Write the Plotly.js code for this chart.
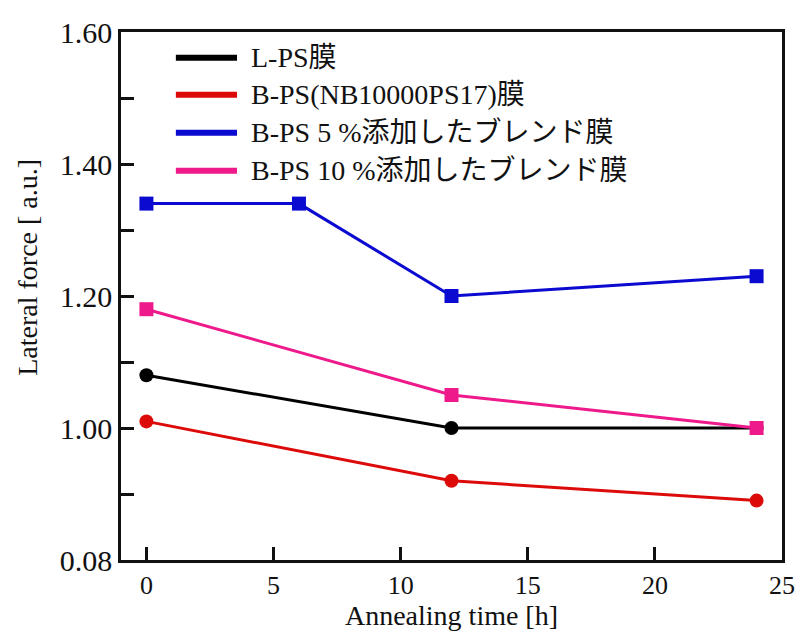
<!DOCTYPE html>
<html><head><meta charset="utf-8">
<script src="https://cdn.plot.ly/plotly-3.0.1.min.js"></script>
<style>body{margin:0;background:#fff}#chart{width:795px;height:637px}</style>
</head><body><div id="chart"></div>
<script>
const seriesNames = ["L-PS膜", "B-PS(NB10000PS17)膜", "B-PS 5 %添加したブレンド膜", "B-PS 10 %添加したブレンド膜"];
const lpsX = [0, 12, 24];
const lpsY = [1.08, 1.00, 1.00];
const bpsX = [0, 12, 24];
const bpsY = [1.01, 0.92, 0.89];
const blend5X = [0, 6, 12, 24];
const blend5Y = [1.34, 1.34, 1.20, 1.23];
const blend10X = [0, 12, 24];
const blend10Y = [1.18, 1.05, 1.00];
const yTickVals = [0.8, 1.0, 1.2, 1.4, 1.6];
const yTickText = ["0.08", "1.00", "1.20", "1.40", "1.60"];
const xTickVals = [0, 5, 10, 15, 20, 25];
const xTitle = "Annealing time [h]";
const yTitle = "Lateral force [ a.u.]";

const colors = ["#000000", "#dd0a0a", "#0a0ad0", "#ee1a8c"];
const symbols = ["circle", "circle", "square", "square"];
const xs = [lpsX, bpsX, blend5X, blend10X];
const ys = [lpsY, bpsY, blend5Y, blend10Y];
const font = "'Liberation Serif', 'Times New Roman', 'Noto Sans CJK JP', serif";

const traces = [];
for (let i = 0; i < 4; i++) {
  traces.push({x: xs[i], y: ys[i], mode: "lines+markers", name: seriesNames[i], showlegend: false,
    line: {color: colors[i], width: 3},
    marker: {color: colors[i], symbol: symbols[i], size: 14}});
}

// legend drawn in paper space (line sample + label)
const legY = [0.951, 0.881, 0.809, 0.737];
const shapes = [], annotations = [];
for (let i = 0; i < 4; i++) {
  shapes.push({type: "line", xref: "paper", yref: "paper", x0: 0.083, x1: 0.1755, y0: legY[i], y1: legY[i],
    line: {color: colors[i], width: 6}});
  annotations.push({xref: "paper", yref: "paper", x: 0.1935, y: legY[i], xanchor: "left", yanchor: "middle",
    text: seriesNames[i], showarrow: false, font: {size: 28, family: font, color: "#111"}});
}
annotations.push({xref: "paper", yref: "paper", x: -0.141, y: 0.555, xanchor: "center", yanchor: "middle",
  textangle: -90, text: yTitle, showarrow: false, font: {size: 28, family: font, color: "#111"}});

const layout = {
  width: 795, height: 637,
  margin: {l: 121, r: 13, t: 32, b: 77},
  paper_bgcolor: "#fff", plot_bgcolor: "#fff",
  font: {family: font, color: "#111"},
  showlegend: false,
  shapes: shapes, annotations: annotations,
  xaxis: {range: [-1, 25], tickvals: xTickVals, ticks: "inside", ticklen: 13, tickwidth: 2.5,
    tickcolor: "#111", showline: true, linewidth: 2.5, linecolor: "#111", mirror: true,
    showgrid: false, zeroline: false, tickfont: {size: 26, family: font}, ticklabeloverflow: "allow",
    title: {text: xTitle, font: {size: 28, family: font}, standoff: 6}},
  yaxis: {range: [0.8, 1.6], tickvals: yTickVals, ticktext: yTickText, ticks: "inside", ticklen: 13,
    tickwidth: 2.5, tickcolor: "#111", showline: true, linewidth: 2.5, linecolor: "#111", mirror: true,
    showgrid: false, zeroline: false, tickfont: {size: 30, family: font}, ticklabeloverflow: "allow",
    minor: {dtick: 0.1, ticks: "inside", ticklen: 13, tickwidth: 2.5, tickcolor: "#111", showgrid: false}}
};
Plotly.newPlot("chart", traces, layout, {displayModeBar: false});
</script></body></html>
